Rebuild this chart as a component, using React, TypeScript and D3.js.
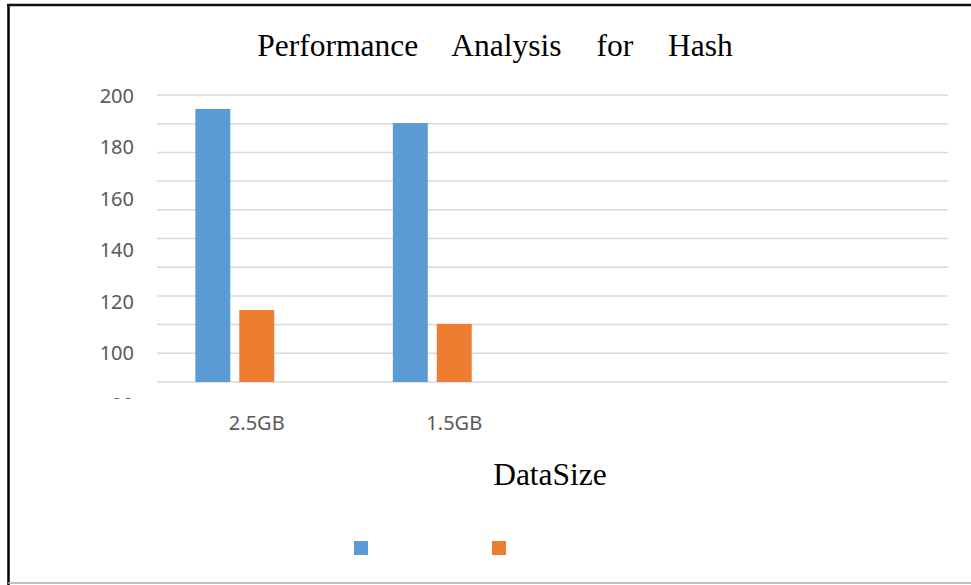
import React from "react";
import * as d3 from "d3";

// Category axis (two empty trailing slots keep the original band layout)
const categories = ["2.5GB", "1.5GB", "", ""];
const seriesNames = ["Series1", "Series2", "Series3"];
const series1 = [194.6, 189.1, null, null];
const series2 = [116.5, 111.1, null, null];
const series3: (number | null)[] = [null, null, null, null];
const yTickLabels = [200, 180, 160, 140, 120, 100, 80];
const colors = ["#5b9bd5", "#ed7d31", "#a5a5a5"];

const W = 971;
const H = 585;

export default function App() {
  const plotLeft = 158;
  const plotRight = 948;
  const axisBottom = 382;

  const y = d3.scaleLinear().domain([100, 200]).range([352.5, 95]);
  const yMin = y.invert(axisBottom);
  const gridValues = d3.range(11).map((i) => 200 - (i * (200 - yMin)) / 10);

  const x = d3.scaleBand<string>().domain(categories.map((c, i) => `${i}`)).range([plotLeft, plotRight]);
  const inner = d3
    .scaleBand<string>()
    .domain(seriesNames)
    .range([0, x.bandwidth()])
    .paddingInner(0.2045)
    .paddingOuter(0.85);

  const allSeries = [series1, series2, series3];
  const labelFont = "'Noto Sans', 'Open Sans', sans-serif";
  const serifFont = "'Liberation Serif', 'DejaVu Serif', serif";

  return (
    <svg
      width={W}
      height={H}
      style={{ position: "absolute", left: 0, top: 0, background: "#fff" }}
    >
      <defs>
        <clipPath id="yLabelClip">
          <rect x={0} y={0} width={plotLeft} height={399} />
        </clipPath>
      </defs>
      <rect x={0} y={0} width={W} height={H} fill="#fff" />
      {/* frame */}
      <line x1={8.5} y1={5} x2={8.5} y2={H} stroke="#000" strokeWidth={2.5} />
      <line x1={7} y1={5} x2={W} y2={5} stroke="#111" strokeWidth={2.5} />
      <line x1={8} y1={583} x2={W} y2={583} stroke="#aaa" strokeWidth={1.5} />

      <text
        x={495}
        y={56}
        textAnchor="middle"
        fontFamily={serifFont}
        fontSize={31.5}
        wordSpacing={27}
        fill="#000"
      >
        Performance Analysis for Hash
      </text>

      {/* gridlines */}
      {gridValues.map((v, i) => (
        <line
          key={i}
          x1={plotLeft - 1}
          x2={plotRight}
          y1={y(v)}
          y2={y(v)}
          stroke="#d9d9d9"
          strokeWidth={1.5}
        />
      ))}

      {/* y labels */}
      <g clipPath="url(#yLabelClip)">
        {yTickLabels.map((v) => (
          <text
            key={v}
            x={134}
            y={y(v) + 7.5}
            textAnchor="end"
            fontFamily={labelFont}
            fontSize={20}
            fill="#595959"
          >
            {v}
          </text>
        ))}
      </g>

      {/* bars */}
      {allSeries.map((s, si) =>
        s.map((v, ci) =>
          v == null ? null : (
            <rect
              key={`${si}-${ci}`}
              x={(x(`${ci}`) ?? 0) + (inner(seriesNames[si]) ?? 0)}
              y={y(v)}
              width={inner.bandwidth()}
              height={axisBottom - y(v)}
              fill={colors[si]}
            />
          )
        )
      )}

      {/* category labels */}
      {categories.map((c, i) => (
        <text
          key={i}
          x={(x(`${i}`) ?? 0) + x.bandwidth() / 2}
          y={430}
          textAnchor="middle"
          fontFamily={labelFont}
          fontSize={20}
          fill="#595959"
        >
          {c}
        </text>
      ))}

      <text
        x={550}
        y={485}
        textAnchor="middle"
        fontFamily={serifFont}
        fontSize={31.5}
        fill="#000"
      >
        DataSize
      </text>

      {/* legend */}
      {seriesNames.slice(0, 2).map((n, i) => (
        <rect key={n} x={354 + i * 138} y={541} width={14} height={14} fill={colors[i]} />
      ))}
    </svg>
  );
}
